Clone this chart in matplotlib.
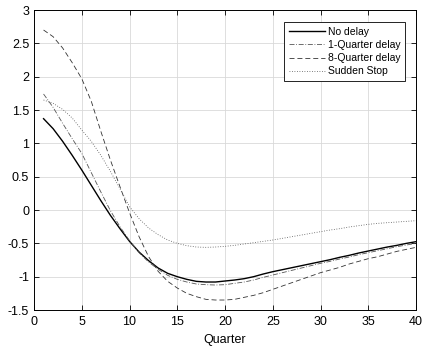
import numpy as np
import matplotlib
matplotlib.use("Agg")
import matplotlib.pyplot as plt

plt.rcParams["font.family"] = ["Liberation Sans", "DejaVu Sans"]
plt.rcParams["font.size"] = 9

# quarters 1..40
quarters = np.arange(1, 41)

no_delay = [1.37, 1.22, 1.03, 0.82, 0.60, 0.37, 0.14, -0.08, -0.28, -0.47,
            -0.63, -0.76, -0.87, -0.95, -1.00, -1.04, -1.07, -1.08, -1.08, -1.065,
            -1.05, -1.03, -1.00, -0.96, -0.925, -0.895, -0.865, -0.835, -0.805, -0.775,
            -0.745, -0.71, -0.68, -0.645, -0.615, -0.585, -0.555, -0.53, -0.50, -0.475]

delay_1q = [1.74, 1.54, 1.30, 1.07, 0.85, 0.56, 0.27, -0.01, -0.25, -0.46,
            -0.64, -0.78, -0.89, -0.98, -1.04, -1.08, -1.11, -1.12, -1.125, -1.12,
            -1.10, -1.08, -1.05, -1.01, -0.975, -0.94, -0.905, -0.87, -0.835, -0.80,
            -0.77, -0.735, -0.705, -0.67, -0.64, -0.61, -0.58, -0.55, -0.525, -0.50]

delay_8q = [2.70, 2.60, 2.43, 2.21, 1.97, 1.63, 1.18, 0.75, 0.35, -0.04,
            -0.40, -0.70, -0.92, -1.07, -1.17, -1.25, -1.30, -1.34, -1.35, -1.35,
            -1.34, -1.31, -1.28, -1.24, -1.19, -1.14, -1.09, -1.04, -0.99, -0.94,
            -0.90, -0.86, -0.81, -0.77, -0.73, -0.70, -0.66, -0.62, -0.59, -0.56]

sudden_stop = [1.65, 1.60, 1.51, 1.38, 1.20, 1.03, 0.82, 0.58, 0.32, 0.05,
               -0.13, -0.27, -0.37, -0.45, -0.50, -0.535, -0.555, -0.56, -0.555, -0.545,
               -0.53, -0.51, -0.49, -0.47, -0.45, -0.425, -0.40, -0.375, -0.35, -0.325,
               -0.30, -0.28, -0.255, -0.235, -0.215, -0.20, -0.19, -0.18, -0.17, -0.16]

fig = plt.figure(figsize=(4.23, 3.49), dpi=100)
ax = fig.add_axes([0.0804, 0.1117, 0.9031, 0.8596])

ax.plot(quarters, no_delay, color="black", linewidth=1.0, label="No delay")
ax.plot(quarters, delay_1q, color="#555555", linewidth=0.6, dashes=(6, 2, 1, 2), label="1-Quarter delay")
ax.plot(quarters, delay_8q, color="#333333", linewidth=0.6, dashes=(6, 3.5), label="8-Quarter delay")
ax.plot(quarters, sudden_stop, color="#555555", linewidth=0.6, dashes=(1, 2), label="Sudden Stop")

ax.set_xlim(0, 40)
ax.set_ylim(-1.5, 3)
ax.set_xticks(np.arange(0, 41, 5))
ax.set_yticks(np.arange(-1.5, 3.01, 0.5))
ax.set_yticklabels(["-1.5", "-1", "-0.5", "0", "0.5", "1", "1.5", "2", "2.5", "3"])
ax.set_xlabel("Quarter", labelpad=4)
ax.grid(True, color="#d9d9d9", linewidth=0.6)
ax.set_axisbelow(True)
ax.tick_params(direction="in", top=True, right=True, length=3.6, width=0.6)
ax.tick_params(axis="x", pad=4.5)
ax.tick_params(axis="y", pad=3.5)
for s in ax.spines.values():
    s.set_linewidth(0.7)

leg = ax.legend(loc="upper right", bbox_to_anchor=(0.971, 0.959), borderaxespad=0,
                fancybox=False, edgecolor="black", framealpha=1, fontsize=7.5,
                handlelength=3.4, handletextpad=0.3, borderpad=0.45, labelspacing=0.3)
leg.get_frame().set_linewidth(0.6)

fig.savefig("out.png", dpi=100)
